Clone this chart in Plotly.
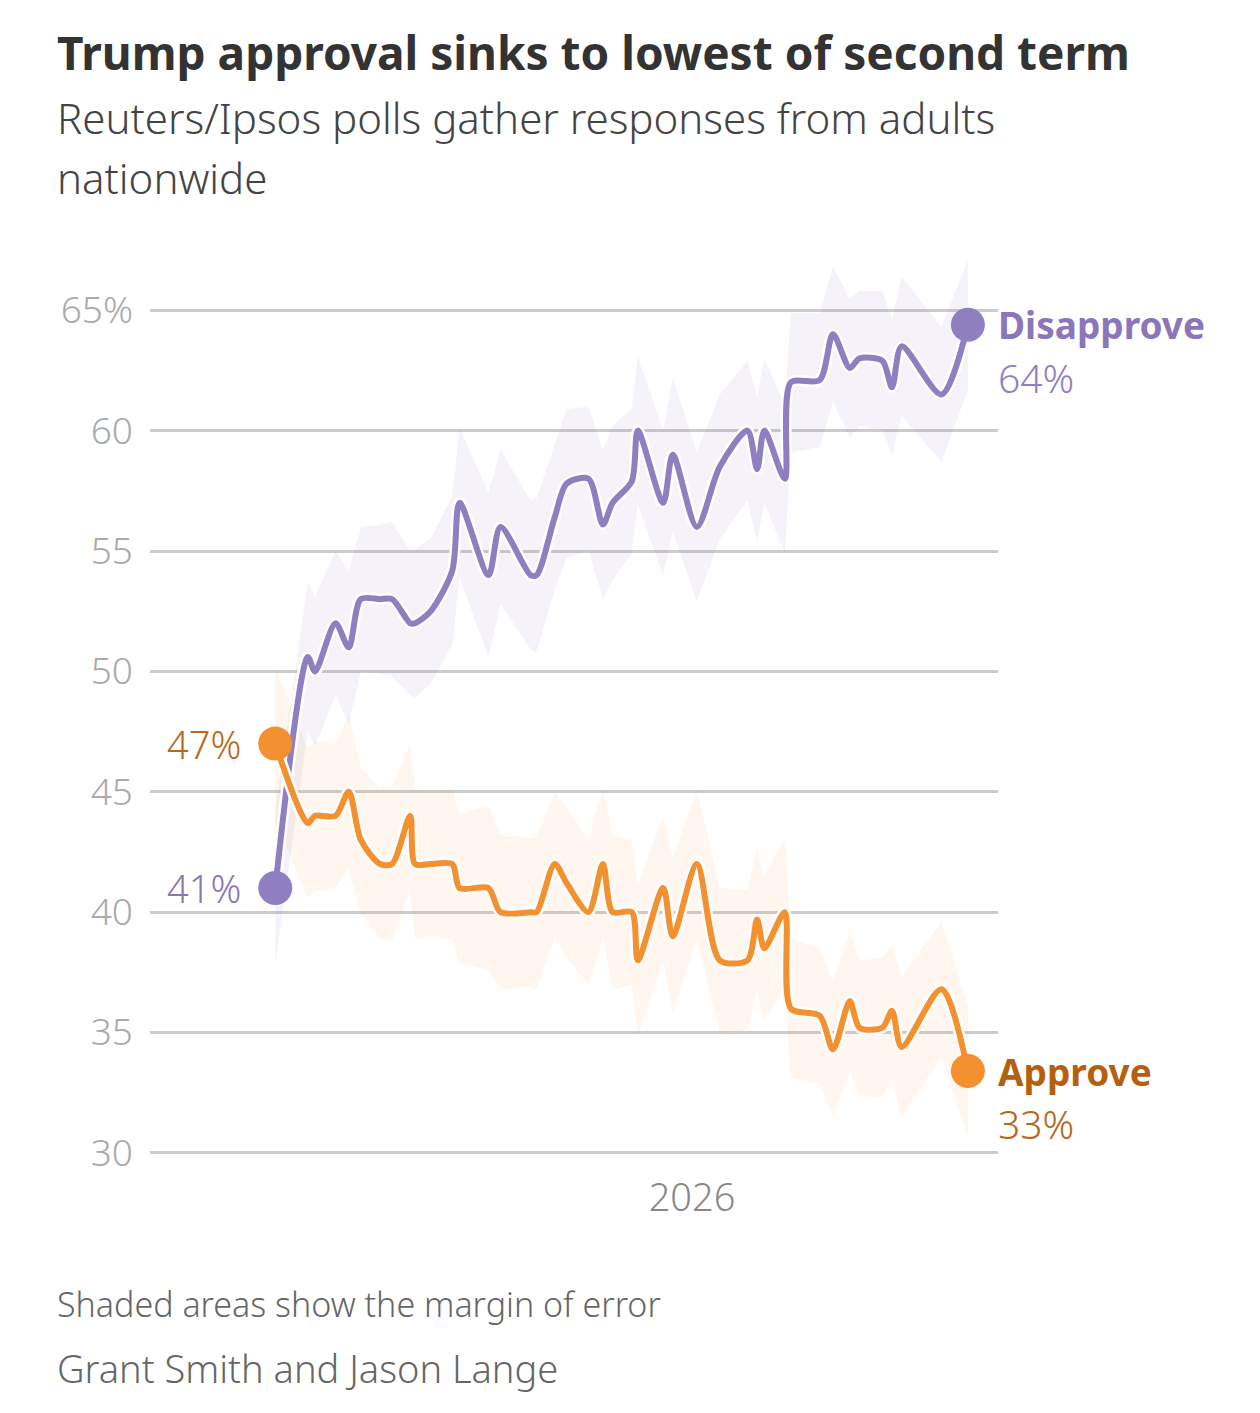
import plotly.graph_objects as go

# Reuters/Ipsos poll dates
poll_dates = [
    "2025-01-20", "2025-02-16", "2025-02-22", "2025-03-11", "2025-03-22",
    "2025-04-01", "2025-04-17", "2025-04-27", "2025-05-12", "2025-05-16",
    "2025-05-29", "2025-06-16", "2025-06-22", "2025-07-16", "2025-07-26",
    "2025-08-20", "2025-08-25", "2025-09-09", "2025-09-19", "2025-10-07",
    "2025-10-19", "2025-10-27", "2025-11-12", "2025-11-17", "2025-12-08",
    "2025-12-16", "2026-01-05", "2026-01-24", "2026-02-16", "2026-02-24",
    "2026-03-02", "2026-03-19", "2026-03-24", "2026-04-17", "2026-04-28",
    "2026-05-12", "2026-05-20", "2026-06-08", "2026-06-16", "2026-06-24",
    "2026-07-27", "2026-08-18",
]

disapprove = [
    41.0, 50.6, 50.0, 52.0, 51.0, 53.0, 53.0, 53.0, 52.0, 52.0,
    52.5, 54.2, 57.0, 54.0, 56.0, 54.0, 54.0, 56.4, 57.8, 58.0,
    56.1, 57.0, 57.9, 60.0, 57.0, 59.0, 56.0, 58.5, 60.0, 58.4,
    60.0, 58.0, 62.0, 62.1, 64.0, 62.6, 63.0, 62.9, 61.8, 63.5,
    61.5, 64.4,
]

approve = [
    47.0, 43.7, 44.0, 44.0, 45.0, 43.0, 42.0, 42.0, 44.0, 42.0,
    42.0, 42.0, 41.0, 41.0, 40.0, 40.0, 40.0, 42.0, 41.2, 40.0,
    42.0, 40.0, 40.0, 38.0, 41.0, 39.0, 42.0, 38.0, 38.0, 39.7,
    38.5, 40.0, 36.0, 35.7, 34.3, 36.3, 35.2, 35.2, 35.9, 34.4,
    36.8, 33.4,
]

# margin of error, percentage points
moe = [
    3.2, 3.1, 3.1, 3.0, 3.2, 3.0, 3.1, 3.2, 3.0, 3.1,
    3.0, 3.1, 3.1, 3.4, 3.2, 3.1, 3.2, 3.0, 3.1, 3.0,
    3.1, 3.2, 3.0, 3.1, 3.0, 3.2, 3.1, 3.0, 2.9, 3.0,
    3.0, 3.1, 2.9, 2.8, 2.8, 2.9, 2.8, 2.9, 2.8, 2.9,
    2.8, 2.7,
]

y_ticks = [30, 35, 40, 45, 50, 55, 60, 65]
y_tick_text = ["30", "35", "40", "45", "50", "55", "60", "65%"]
x_ticks = ["2026-01-01"]
x_tick_text = ["2026"]

PURPLE = "#8f7fc1"
ORANGE = "#f39130"
FONT = "Noto Sans"

# the page adds an 8px body margin, so the figure is shifted up/left by that much
OFF = 8
W, H = 1260 - OFF - 8, 1413 - OFF - 8
L, T = 150 - OFF, 238 - OFF
PW, PH = 848, 939
R, B = W - L - PW, H - T - PH


def px_x(px):
    return (px - OFF - L) / PW


def px_y(py):
    return (T + PH - (py - OFF)) / PH


def add_band(fig, values, band_color):
    upper = [v + m for v, m in zip(values, moe)]
    lower = [v - m for v, m in zip(values, moe)]
    fig.add_trace(go.Scatter(x=poll_dates, y=lower, mode="lines",
                             line=dict(width=0, color=band_color),
                             hoverinfo="skip", showlegend=False))
    fig.add_trace(go.Scatter(x=poll_dates, y=upper, mode="lines", fill="tonexty",
                             fillcolor=band_color, line=dict(width=0, color=band_color),
                             hoverinfo="skip", showlegend=False))


def add_line(fig, values, color):
    # white halo under the line
    fig.add_trace(go.Scatter(x=poll_dates, y=values, mode="lines",
                             line=dict(width=11, color="white", shape="spline", smoothing=0.8),
                             hoverinfo="skip", showlegend=False))
    fig.add_trace(go.Scatter(x=poll_dates, y=values, mode="lines",
                             line=dict(width=6, color=color, shape="spline", smoothing=0.8),
                             showlegend=False))


fig = go.Figure()

add_band(fig, disapprove, "rgba(143,127,193,0.09)")
add_band(fig, approve, "rgba(243,145,48,0.08)")
add_line(fig, disapprove, PURPLE)
add_line(fig, approve, ORANGE)

# end point markers
for values, color in [(disapprove, PURPLE), (approve, ORANGE)]:
    fig.add_trace(go.Scatter(x=[poll_dates[0], poll_dates[-1]], y=[values[0], values[-1]],
                             mode="markers", marker=dict(size=34, color=color),
                             showlegend=False))

annotations = [
    dict(text="<b>Trump approval sinks to lowest of second term</b>", x=px_x(55), y=px_y(52),
         font=dict(size=46, color="#333333")),
    dict(text="Reuters/Ipsos polls gather responses from adults", x=px_x(55), y=px_y(117),
         font=dict(size=42, color="#444444", weight=300)),
    dict(text="nationwide", x=px_x(55), y=px_y(177),
         font=dict(size=42, color="#444444", weight=300)),
    dict(text="Shaded areas show the margin of error", x=px_x(55), y=px_y(1304),
         font=dict(size=34, color="#666666", weight=300)),
    dict(text="Grant Smith and Jason Lange", x=px_x(55), y=px_y(1368),
         font=dict(size=38, color="#666666", weight=300)),
]
for a in annotations:
    a.update(xref="paper", yref="paper", xanchor="left", yanchor="middle", showarrow=False)

label_style = dict(xref="x", yref="y", showarrow=False, yanchor="middle")
annotations += [
    dict(text="<b>Disapprove</b>", x=poll_dates[-1], y=disapprove[-1], xanchor="left", xshift=28,
         font=dict(size=37, color="#8a76b8"), **label_style),
    dict(text=f"{round(disapprove[-1])}%", x=poll_dates[-1], y=disapprove[-1], xanchor="left",
         xshift=28, yshift=-53, font=dict(size=39, color="#8f7fc1", weight=300), **label_style),
    dict(text="<b>Approve</b>", x=poll_dates[-1], y=approve[-1], xanchor="left", xshift=28,
         font=dict(size=37, color="#b5600f"), **label_style),
    dict(text=f"{round(approve[-1])}%", x=poll_dates[-1], y=approve[-1], xanchor="left",
         xshift=28, yshift=-52, font=dict(size=39, color="#b8651d", weight=300), **label_style),
    dict(text=f"{round(approve[0])}%", x=poll_dates[0], y=approve[0], xanchor="right", xshift=-32,
         font=dict(size=38, color="#b8691c", weight=300), **label_style),
    dict(text=f"{round(disapprove[0])}%", x=poll_dates[0], y=disapprove[0], xanchor="right",
         xshift=-32, font=dict(size=38, color="#8a76b8", weight=300), **label_style),
]

fig.update_layout(
    width=W, height=H,
    margin=dict(l=L, r=R, t=T, b=B),
    paper_bgcolor="white", plot_bgcolor="white",
    font=dict(family=FONT),
    showlegend=False,
    annotations=annotations,
    xaxis=dict(range=["2024-10-08", "2026-09-12"], tickvals=x_ticks, ticktext=x_tick_text,
               showgrid=False, zeroline=False, showline=False, ticks="",
               ticklabelstandoff=-5,
               tickfont=dict(size=38, color="#888888", weight=300)),
    yaxis=dict(range=[29, 68], tickvals=y_ticks, ticktext=y_tick_text,
               showgrid=True, gridcolor="#cccccc", gridwidth=2.5, zeroline=False,
               showline=False, ticks="", ticklabelstandoff=16,
               tickfont=dict(size=37, color="#aaaaaa", weight=300)),
)

fig.write_html("out.html")
